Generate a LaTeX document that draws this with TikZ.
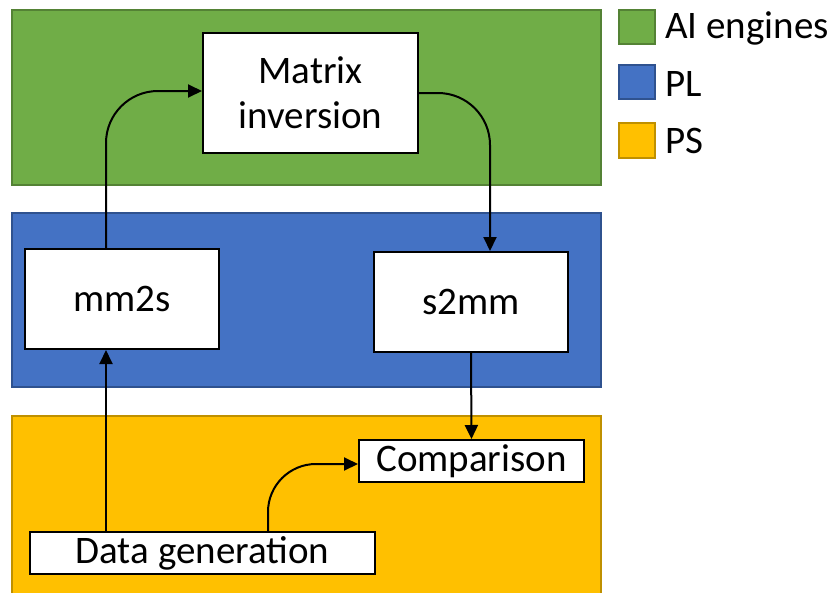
\documentclass[tikz,border=0pt]{standalone}
\usepackage{fontspec}
\setmainfont{Carlito}
\usetikzlibrary{arrows.meta}
\definecolor{aigreen}{HTML}{70AD47}
\definecolor{aigreenE}{HTML}{548235}
\definecolor{plblue}{HTML}{4472C4}
\definecolor{plblueE}{HTML}{2F528F}
\definecolor{psyellow}{HTML}{FFC000}
\definecolor{psyellowE}{HTML}{BF9000}
\tikzset{
  region/.style={line width=1.2pt},
  block/.style={draw=black, fill=white, line width=2pt, inner sep=0pt,
    font=\fontsize{39}{45}\selectfont, align=center},
  arr/.style={line width=2pt, -{Triangle[length=14pt,width=13pt]}},
  legendbox/.style={line width=1.5pt},
  legendtext/.style={anchor=west, inner sep=0pt, font=\fontsize{39}{45}\selectfont}
}
\begin{document}
\begin{tikzpicture}[x=1pt,y=-1pt]
\useasboundingbox (0,0) rectangle (830,592);
% layers
\fill[white] (0,0) rectangle (830,592);
\draw[region, fill=aigreen, draw=aigreenE] (12,10) rectangle (601,185);
\draw[region, fill=plblue, draw=plblueE] (12,213) rectangle (601,387);
\draw[region, fill=psyellow, draw=psyellowE] (12,416) rectangle (601,600);
% blocks
\node[block, minimum width=215pt, minimum height=120pt] (mx) at (310.5,93) {Matrix\\inversion};
\node[block, minimum width=194pt, minimum height=100pt] (m2s) at (122,299) {mm2s};
\node[block, minimum width=194pt, minimum height=100pt] (s2m) at (471,302) {s2mm};
\node[block, minimum width=225pt, minimum height=42pt] (cmp) at (471.5,461) {Comparison};
\node[block, minimum width=345pt, minimum height=42pt] (dg) at (202.5,553) {Data generation};
% lanes for the vertical connectors
\coordinate (laneA) at (106,0);
\coordinate (laneB) at (268,0);
% connectors
\draw[arr, rounded corners=52pt] (m2s.north -| laneA) |- ([yshift=2pt]mx.west);
\draw[arr, rounded corners=52pt] (mx.east) -| ([xshift=19pt]s2m.north);
\draw[arr] (s2m.south) -- (cmp.north);
\draw[arr] (dg.north -| laneA) -- (m2s.south -| laneA);
\draw[arr, rounded corners=48pt] (dg.north -| laneB) |- ([yshift=-3pt]cmp.west);
% legend
\draw[legendbox, fill=aigreen, draw=aigreenE] (619,10) rectangle (655,44);
\draw[legendbox, fill=plblue, draw=plblueE] (619,65) rectangle (655,99);
\draw[legendbox, fill=psyellow, draw=psyellowE] (619,123) rectangle (655,158);
\node[legendtext] (lgA) at (665,28) {AI engines};
\node[legendtext] (lgB) at (665,84) {PL};
\node[legendtext] (lgC) at (665,141) {PS};
\end{tikzpicture}
\end{document}
